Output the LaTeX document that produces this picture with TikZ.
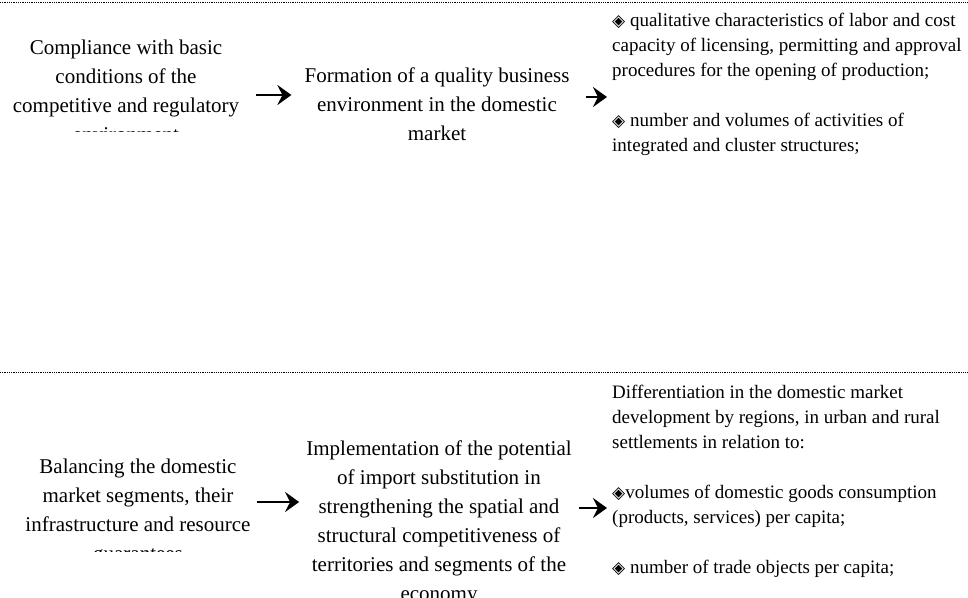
\documentclass[tikz,border=0pt]{standalone}
\usepackage{fontspec}
\setmainfont{Liberation Serif}
\newfontfamily\symfont{DejaVu Sans}
\usetikzlibrary{arrows.meta}

\def\dia{{\symfont\fontsize{17}{25}\selectfont ◈}}

\begin{document}
\begin{tikzpicture}[x=1pt,y=-1pt]
    \tikzstyle{stage}=[align=center,inner sep=0pt,font=\fontsize{21}{29}\selectfont]
    \tikzstyle{indic}=[align=left,inner sep=0pt,anchor=north west,font=\fontsize{19}{25}\selectfont]
    \tikzstyle{flow}=[line width=2.7pt,-{Stealth[length=14pt,width=20pt,inset=5pt]}]
    \tikzstyle{sepline}=[densely dotted,line width=0.8pt]

    \useasboundingbox (0,0) rectangle (968,597);
    \clip (0,0) rectangle (968,597);

    \draw[sepline] (0,2) -- (968,2);
    \draw[sepline] (0,372) -- (968,372);

    % upper row
    \begin{scope}
        \clip (0,0) rectangle (252,131.5);
        \node[stage] (comply) at (126,91) {Compliance with basic\\conditions of the\\competitive and regulatory\\environment};
    \end{scope}
    \node[stage] (quality) at (437,104) {Formation of a quality business\\environment in the domestic\\market};
    \node[indic] (qualind) at (612,13) {\dia\ qualitative characteristics of labor and cost\\capacity of licensing, permitting and approval\\procedures for the opening of production;\\[25pt]\dia\ number and volumes of activities of\\integrated and cluster structures;};

    % lower row
    \begin{scope}
        \clip (0,380) rectangle (256,551);
        \node[stage] (balance) at (138,512) {Balancing the domestic\\market segments, their\\infrastructure and resource\\guarantees};
    \end{scope}
    \node[stage] (implem) at (439,523) {Implementation of the potential\\of import substitution in\\strengthening the spatial and\\structural competitiveness of\\territories and segments of the\\economy};
    \node[indic] (diffind) at (612,385) {Differentiation in the domestic market\\development by regions, in urban and rural\\settlements in relation to:\\[25pt]\dia volumes of domestic goods consumption\\(products, services) per capita;\\[25pt]\dia\ number of trade objects per capita;};

    \draw[flow,shorten <=17pt,shorten >=13pt] ([yshift=-4pt]comply.east) -- ([yshift=-4pt]comply.east -| quality.west);
    \draw[flow,shorten <=16pt,shorten >=5pt] ([yshift=7pt]quality.east) -- ([yshift=7pt]quality.east -| qualind.west);
    \draw[flow,shorten <=6pt,shorten >=7pt] ([yshift=10pt]balance.east) -- ([yshift=10pt]balance.east -| implem.west);
    \draw[flow,shorten <=7pt,shorten >=5pt] ([yshift=15pt]implem.east) -- ([yshift=15pt]implem.east -| diffind.west);
\end{tikzpicture}
\end{document}
